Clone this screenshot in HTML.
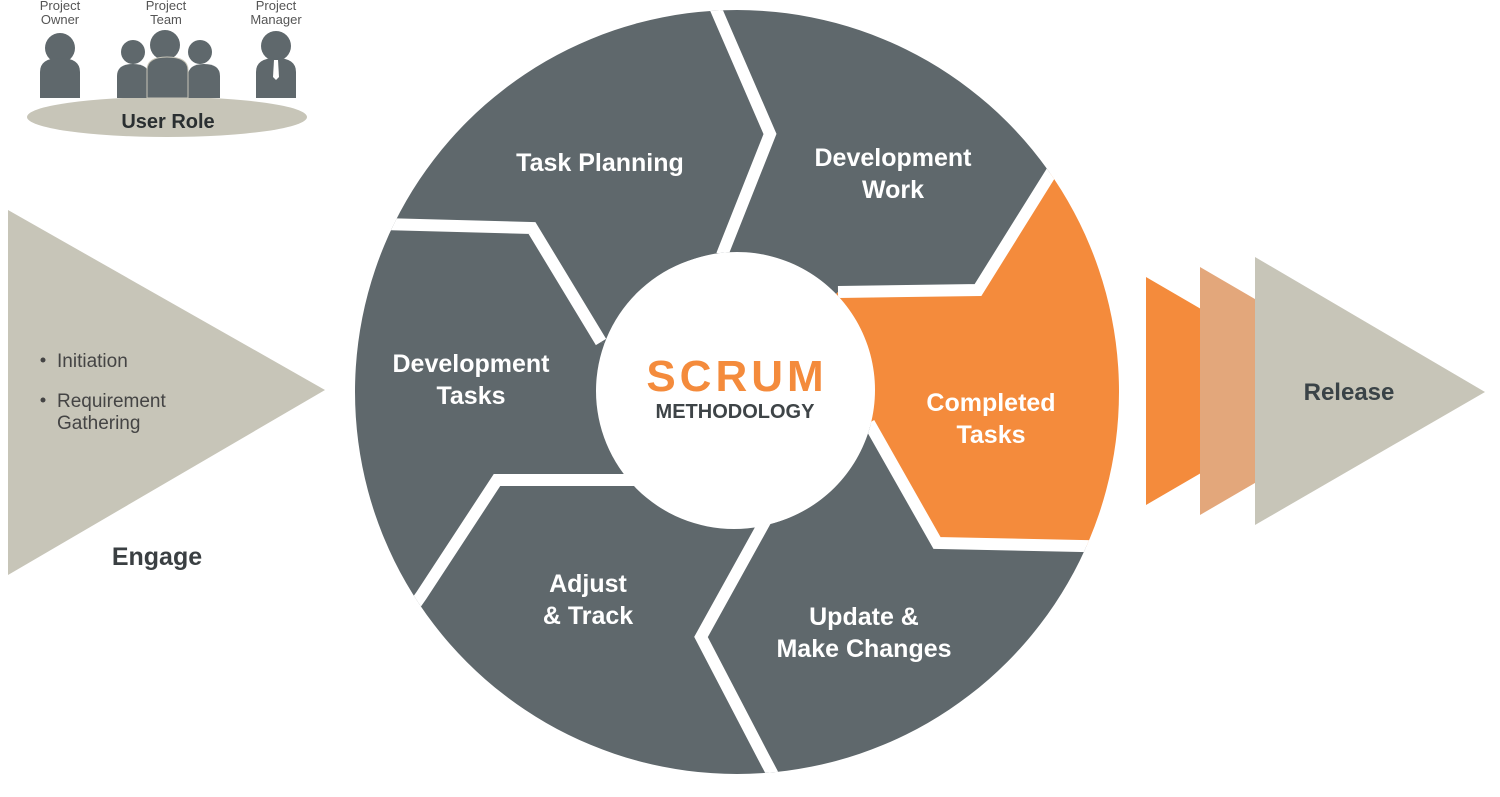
<!DOCTYPE html>
<html><head><meta charset="utf-8"><style>
html,body{margin:0;padding:0;background:#fff;width:1500px;height:797px;overflow:hidden;}
svg{display:block;}
text{font-family:"Liberation Sans",sans-serif;}
</style></head><body>
<svg width="1500" height="797" viewBox="0 0 1500 797" xmlns="http://www.w3.org/2000/svg">
<defs>
<clipPath id="ring"><path clip-rule="evenodd" d="M737,10 a382,382 0 1,0 0.01,0 Z M737,252 a138,138 0 1,1 -0.01,0 Z"/></clipPath>
</defs>
<ellipse cx="167" cy="117" rx="140" ry="20" fill="#c7c5b8"/>
<g fill="#5f686c">
<circle cx="60" cy="48" r="15"/><path d="M40,98 V72 Q40,58 60,58 Q80,58 80,72 V98 Z"/>
<circle cx="133" cy="52" r="12"/><path d="M117,98 V76 Q117,64 133,64 Q149,64 149,76 V98 Z"/>
<circle cx="200" cy="52" r="12"/><path d="M188,98 V76 Q188,64 204,64 Q220,64 220,76 V98 Z"/>
<circle cx="165" cy="45" r="15"/><path d="M147,98 V70 Q147,57 167,57 Q188,57 188,70 V98 Z" stroke="#c7c5b8" stroke-width="1"/>
<circle cx="276" cy="46" r="15"/><path d="M256,98 V72 Q256,58 276,58 Q296,58 296,72 V98 Z"/>
</g>
<path d="M274,60 h4 l1,17 l-3,3 l-3,-3 Z" fill="#fff"/>
<g font-size="13" fill="#555" text-anchor="middle">
<text x="60" y="10">Project</text><text x="60" y="24">Owner</text>
<text x="166" y="10">Project</text><text x="166" y="24">Team</text>
<text x="276" y="10">Project</text><text x="276" y="24">Manager</text>
</g>
<text x="168" y="128" font-size="20" font-weight="bold" fill="#2a2f31" text-anchor="middle">User Role</text>
<polygon points="8,210 325,390 8,575" fill="#c7c5b8"/>
<g font-size="19" fill="#444">
<circle cx="43" cy="360" r="2.5" fill="#444"/><text x="57" y="367">Initiation</text>
<circle cx="43" cy="400" r="2.5" fill="#444"/><text x="57" y="407">Requirement</text>
<text x="57" y="429">Gathering</text>
</g>
<text x="157" y="565" font-size="25" font-weight="bold" fill="#3a3f42" text-anchor="middle">Engage</text>
<polygon points="1146,277 1342,391 1146,505" fill="#f48b3c"/>
<polygon points="1200,267 1413,391 1200,515" fill="#e3a77b"/>
<polygon points="1255,257 1485,392 1255,525" fill="#c7c5b8"/>
<text x="1349" y="400" font-size="24" font-weight="bold" fill="#3a4347" text-anchor="middle">Release</text>
<g clip-path="url(#ring)">
<polygon fill="#5f686c" points="737,392 601,342 532,228 382,224 300,200 300,0 712,0 770,134 722,255"/>
<polygon fill="#5f686c" points="737,392 722,255 770,134 712,0 1200,0 1090,110 978,290 838,292"/>
<polygon fill="#f48b3c" points="737,392 838,292 978,290 1090,110 1300,100 1300,560 1130,547 1081,546 937,543 869,423"/>
<polygon fill="#5f686c" points="737,392 869,423 937,543 1081,546 1130,547 1300,790 781,790 763,756 701,637 768,516"/>
<polygon fill="#5f686c" points="737,392 768,516 701,637 763,756 781,790 300,790 390,640 421,596 497,480 636,480"/>
<polygon fill="#5f686c" points="737,392 636,480 497,480 421,596 390,640 200,700 200,200 300,200 382,224 532,228 601,342"/>
<g fill="none" stroke="#fff" stroke-width="12" stroke-linejoin="miter">
<polyline points="722,255 770,134 712,0"/>
<polyline points="838,292 978,290 1051,173 1090,110"/>
<polyline points="869,423 937,543 1081,546 1140,547"/>
<polyline points="768,516 701,637 763,756 781,790"/>
<polyline points="636,480 497,480 421,596 390,640"/>
<polyline points="601,342 532,228 382,224 330,222"/>
</g>
</g>
<circle cx="734" cy="391" r="138" fill="#fff"/>
<g font-size="25" font-weight="bold" fill="#fff" text-anchor="middle">
<text x="600" y="171">Task Planning</text>
<text x="893" y="166">Development</text><text x="893" y="198">Work</text>
<text x="471" y="372">Development</text><text x="471" y="404">Tasks</text>
<text x="991" y="411">Completed</text><text x="991" y="443">Tasks</text>
<text x="588" y="592">Adjust</text><text x="588" y="624">&amp; Track</text>
<text x="864" y="625">Update &amp;</text><text x="864" y="657">Make Changes</text>
</g>
<text x="737" y="391" font-size="44" font-weight="bold" fill="#f48b3c" text-anchor="middle" letter-spacing="4">SCRUM</text>
<text x="735" y="418" font-size="20" font-weight="bold" fill="#3e4447" text-anchor="middle">METHODOLOGY</text>
</svg>
</body></html>
